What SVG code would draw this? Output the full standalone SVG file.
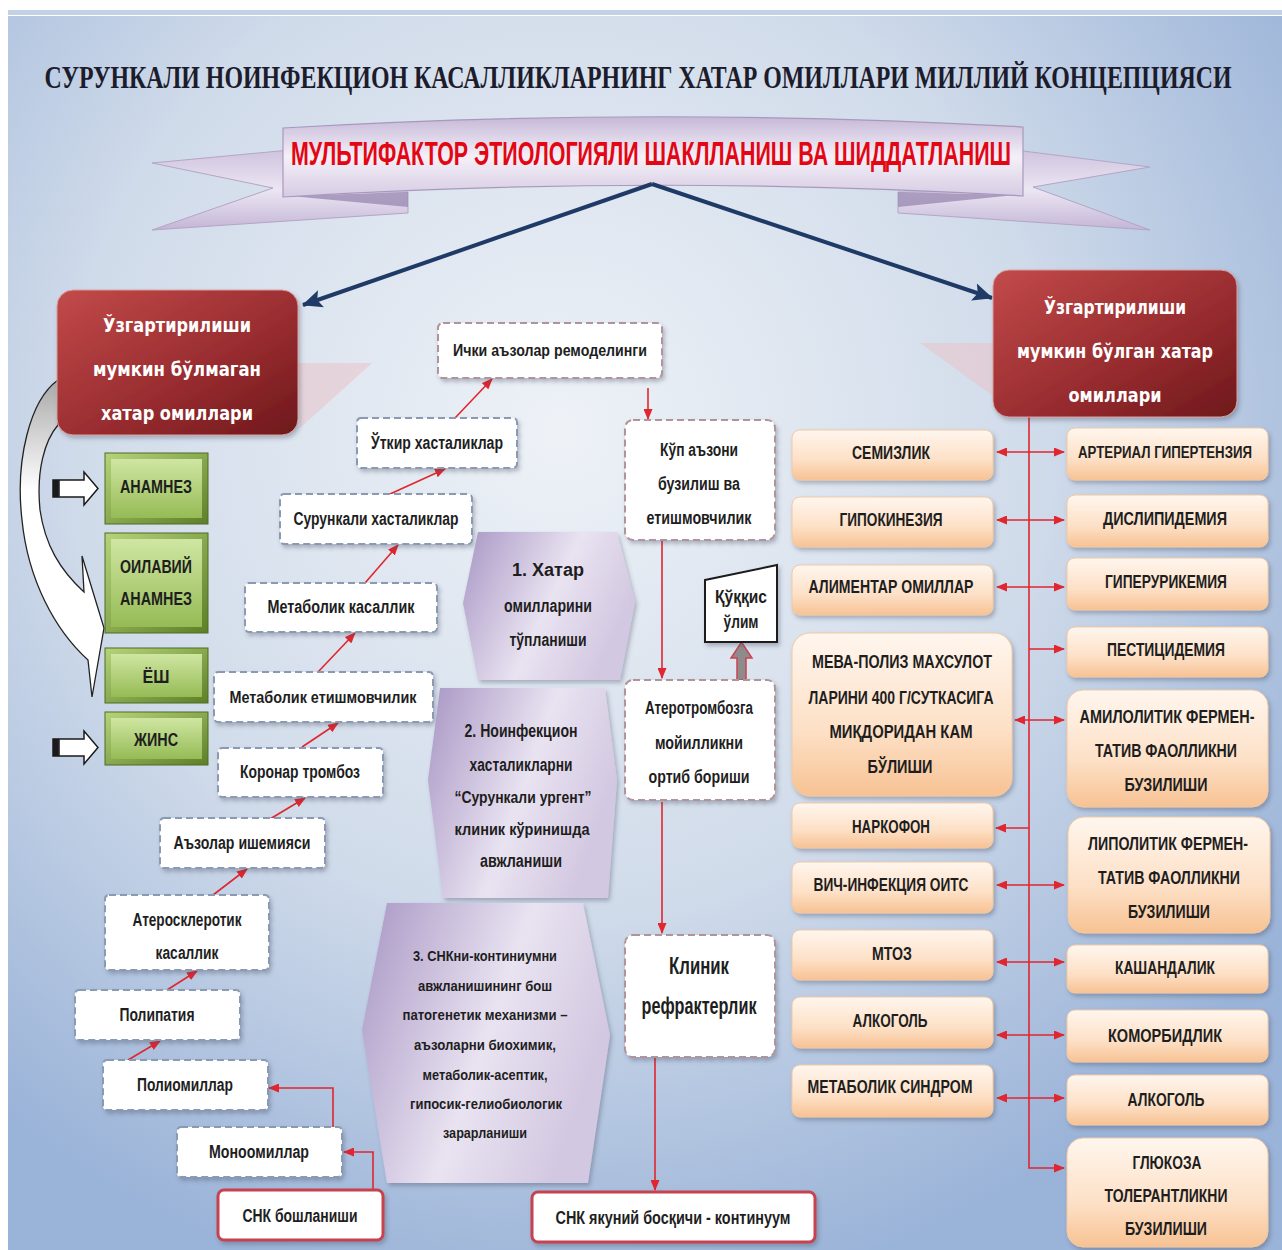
<svg xmlns="http://www.w3.org/2000/svg" width="1282" height="1250" viewBox="0 0 1282 1250">
<defs>
<radialGradient id="bg" gradientUnits="userSpaceOnUse" cx="560" cy="430" r="880">
<stop offset="0" stop-color="#eef2f7"/><stop offset="0.55" stop-color="#d0dbea"/><stop offset="1" stop-color="#9ab3d8"/>
</radialGradient>
<linearGradient id="ribbon" x1="0" y1="0" x2="0" y2="1">
<stop offset="0" stop-color="#c6b8d8"/><stop offset="0.5" stop-color="#f4f0f8"/><stop offset="1" stop-color="#d6cbe3"/>
</linearGradient>
<linearGradient id="wing" x1="0" y1="0" x2="0" y2="1">
<stop offset="0" stop-color="#cfc3de"/><stop offset="0.5" stop-color="#ece6f3"/><stop offset="1" stop-color="#c3b5d6"/>
</linearGradient>
<linearGradient id="redbox" x1="0" y1="0" x2="1" y2="1">
<stop offset="0" stop-color="#c24a4a"/><stop offset="0.6" stop-color="#962b2e"/><stop offset="1" stop-color="#6e181c"/>
</linearGradient>
<linearGradient id="green" x1="0" y1="0" x2="0" y2="1">
<stop offset="0" stop-color="#cfe6a2"/><stop offset="1" stop-color="#96bb55"/>
</linearGradient>
<linearGradient id="greenEdge" x1="0" y1="0" x2="1" y2="1">
<stop offset="0" stop-color="#b5d47a"/><stop offset="1" stop-color="#5e7f28"/>
</linearGradient>
<linearGradient id="hex" x1="0" y1="0" x2="1" y2="0.4">
<stop offset="0" stop-color="#a896c4"/><stop offset="0.6" stop-color="#e9e3f1"/><stop offset="1" stop-color="#d3c8e1"/>
</linearGradient>
<linearGradient id="orange" x1="0" y1="0" x2="0" y2="1">
<stop offset="0" stop-color="#fff6ee"/><stop offset="0.6" stop-color="#fde0c6"/><stop offset="1" stop-color="#f7c293"/>
</linearGradient>
<linearGradient id="curv" x1="0" y1="0" x2="0" y2="1">
<stop offset="0" stop-color="#a9a9a9"/><stop offset="0.35" stop-color="#ffffff"/><stop offset="1" stop-color="#ffffff"/>
</linearGradient>
<filter id="sh" x="-10%" y="-10%" width="130%" height="140%">
<feDropShadow dx="2" dy="3" stdDeviation="2" flood-color="#404860" flood-opacity="0.35"/>
</filter>
<marker id="ra" markerUnits="userSpaceOnUse" markerWidth="11" markerHeight="9" refX="10" refY="4.5" orient="auto-start-reverse">
<path d="M0,0 L11,4.5 L0,9 Z" fill="#e0262f"/>
</marker>
<marker id="ba" markerUnits="userSpaceOnUse" markerWidth="22" markerHeight="20" refX="19" refY="10" orient="auto">
<path d="M0,1 L20,10 L0,19 L4,10 Z" fill="#1f3a66"/>
</marker>
<style>
.t{font-family:"Liberation Sans Narrow","Liberation Sans",Arial,sans-serif;font-weight:bold;fill:#1e1e1e;text-anchor:middle;dominant-baseline:central}
.w{font-family:"DejaVu Sans","Liberation Sans",sans-serif;font-weight:bold;fill:#ffffff;text-anchor:middle;dominant-baseline:central;font-size:19px}
.s18{font-size:18px}.s20{font-size:19px}.s17{font-size:17px}.s16{font-size:16px}.s15{font-size:15px}.s24{font-size:24px}
.db{fill:#ffffff;stroke:#8a9ab3;stroke-width:2;stroke-dasharray:7 4;filter:url(#sh)}
.dp{fill:#ffffff;stroke:#b0949a;stroke-width:2;stroke-dasharray:7 4;filter:url(#sh)}
.rb{fill:#ffffff;stroke:#c6434f;stroke-width:3;filter:url(#sh)}
.ob{fill:url(#orange);stroke:#f1c8a4;stroke-width:1;filter:url(#sh)}
.hx{fill:url(#hex);filter:url(#sh)}
.rl{fill:none;stroke:#e0262f;stroke-width:1.6}
.gb{fill:url(#greenEdge);stroke:#4f6d22;stroke-width:1}
.gi{fill:url(#green)}
</style>
</defs>
<rect x="0" y="0" width="1282" height="1250" fill="#ffffff"/>
<rect x="8" y="16" width="1274" height="1234" fill="url(#bg)"/>
<rect x="8" y="10" width="1274" height="5" fill="#c3d1e6"/>

<text transform="translate(638,88) scale(1,1.25)" x="0" y="0" font-family="Liberation Serif,Times New Roman,serif" font-weight="bold" font-size="25" fill="#1c1c2c" text-anchor="middle" textLength="1187" lengthAdjust="spacingAndGlyphs">СУРУНКАЛИ НОИНФЕКЦИОН КАСАЛЛИКЛАРНИНГ ХАТАР ОМИЛЛАРИ МИЛЛИЙ КОНЦЕПЦИЯСИ</text>

<g id="ribbon">
<polygon points="152,163 290,150 290,192 408,192 408,213 152,230 273,188" fill="url(#wing)" stroke="#b3a5c6" stroke-width="1"/>
<polygon points="290,196 408,192 408,207" fill="#9b8cb3" opacity="0.8"/>
<polygon points="1015,150 1150,167 1033,187 1150,230 898,213 898,192 1015,192" fill="url(#wing)" stroke="#b3a5c6" stroke-width="1"/>
<polygon points="898,192 1015,195 898,207" fill="#9b8cb3" opacity="0.8"/>
<path d="M283,128 Q653,106 1023,127 L1023,196 Q653,174 283,197 Z" fill="url(#ribbon)" stroke="#a899bc" stroke-width="1.2"/>
<text transform="translate(651,165) scale(1,1.25)" x="0" y="0" font-family="Liberation Sans Narrow,Liberation Sans,Arial,sans-serif" font-weight="bold" font-size="27" fill="#e30613" text-anchor="middle" textLength="720" lengthAdjust="spacingAndGlyphs">МУЛЬТИФАКТОР ЭТИОЛОГИЯЛИ ШАКЛЛАНИШ ВА ШИДДАТЛАНИШ</text>
</g>

<g id="shadows" opacity="0.55">
<polygon points="298,363 372,363 300,428" fill="#e9c3c8"/>
<polygon points="920,343 993,343 993,396" fill="#e9c3c8"/>
</g>

<g id="connectors">
<line x1="652" y1="184" x2="303" y2="305" stroke="#1f3a66" stroke-width="4" marker-end="url(#ba)"/>
<line x1="652" y1="184" x2="992" y2="298" stroke="#1f3a66" stroke-width="4" marker-end="url(#ba)"/>
<g class="rl">
<polyline points="373,1190 373,1152 344,1152" marker-end="url(#ra)"/>
<polyline points="333,1127 333,1088 269,1088" marker-end="url(#ra)"/>
<line x1="128" y1="1060" x2="160" y2="1041" marker-end="url(#ra)"/>
<line x1="167" y1="990" x2="197" y2="971" marker-end="url(#ra)"/>
<line x1="213" y1="895" x2="247" y2="869" marker-end="url(#ra)"/>
<line x1="270" y1="819" x2="305" y2="798" marker-end="url(#ra)"/>
<line x1="302" y1="747" x2="338" y2="723" marker-end="url(#ra)"/>
<line x1="318" y1="672" x2="355" y2="633" marker-end="url(#ra)"/>
<line x1="365" y1="583" x2="398" y2="545" marker-end="url(#ra)"/>
<line x1="390" y1="494" x2="445" y2="469" marker-end="url(#ra)"/>
<line x1="455" y1="418" x2="492" y2="379" marker-end="url(#ra)"/>
<line x1="648" y1="388" x2="648" y2="419" marker-end="url(#ra)"/>
<line x1="662" y1="540" x2="662" y2="678" marker-end="url(#ra)"/>
<line x1="662" y1="802" x2="662" y2="933" marker-end="url(#ra)"/>
<line x1="655" y1="1058" x2="655" y2="1190" marker-end="url(#ra)"/>
<polyline points="1029,417 1029,1168 1064,1168" marker-end="url(#ra)"/>
<line x1="997" y1="452" x2="1064" y2="452" marker-start="url(#ra)" marker-end="url(#ra)"/>
<line x1="997" y1="520" x2="1064" y2="520" marker-start="url(#ra)" marker-end="url(#ra)"/>
<line x1="997" y1="587" x2="1064" y2="587" marker-start="url(#ra)" marker-end="url(#ra)"/>
<line x1="1029" y1="649" x2="1064" y2="649" marker-end="url(#ra)"/>
<line x1="1015" y1="720" x2="1064" y2="720" marker-start="url(#ra)" marker-end="url(#ra)"/>
<line x1="1029" y1="828" x2="996" y2="828" marker-end="url(#ra)"/>
<line x1="997" y1="885" x2="1064" y2="885" marker-start="url(#ra)" marker-end="url(#ra)"/>
<line x1="997" y1="962" x2="1064" y2="962" marker-start="url(#ra)" marker-end="url(#ra)"/>
<line x1="997" y1="1035" x2="1064" y2="1035" marker-start="url(#ra)" marker-end="url(#ra)"/>
<line x1="997" y1="1098" x2="1064" y2="1098" marker-start="url(#ra)" marker-end="url(#ra)"/>
</g>
<path d="M58,380 C30,400 15,460 22,520 C28,580 55,630 88,660 L92,697 L104,628 L82,556 L84,592 C60,570 45,545 40,510 C36,470 45,440 58,425 Z" fill="url(#curv)" stroke="#222" stroke-width="1.3"/>
<g id="smallArrows" stroke="#1a1a1a" stroke-width="1.5">
<rect x="53" y="480" width="5" height="17" fill="#1a1a1a"/>
<polygon points="59,480 84,480 84,472 98,488.5 84,505 84,497 59,497" fill="#ffffff"/>
<rect x="53" y="739" width="5" height="17" fill="#1a1a1a"/>
<polygon points="59,739 84,739 84,731 98,747.5 84,764 84,756 59,756" fill="#ffffff"/>
</g>
<polygon points="737,680 737,658 731,658 741.5,642 752,658 746,658 746,680" fill="#8c8c8c" stroke="#d04050" stroke-width="1.5"/>
</g>

<g id="n-left-red"><rect x="57" y="290" width="241" height="145" rx="16" fill="url(#redbox)" stroke="#d8a0a0" stroke-width="1" filter="url(#sh)"/>
<text class="w" x="177" y="325" textLength="148" lengthAdjust="spacingAndGlyphs">Ўзгартирилиши</text>
<text class="w" x="177" y="369" textLength="168" lengthAdjust="spacingAndGlyphs">мумкин бўлмаган</text>
<text class="w" x="177" y="413" textLength="152" lengthAdjust="spacingAndGlyphs">хатар омиллари</text></g>
<g id="n-right-red"><rect x="993" y="270" width="244" height="147" rx="16" fill="url(#redbox)" stroke="#d8a0a0" stroke-width="1" filter="url(#sh)"/>
<text class="w" x="1115" y="307" textLength="142" lengthAdjust="spacingAndGlyphs">Ўзгартирилиши</text>
<text class="w" x="1115" y="351" textLength="196" lengthAdjust="spacingAndGlyphs">мумкин бўлган хатар</text>
<text class="w" x="1115" y="395" textLength="93" lengthAdjust="spacingAndGlyphs">омиллари</text></g>

<g id="n-anamnez"><rect class="gb" x="105" y="453" width="103" height="71"/><rect class="gi" x="111" y="459" width="91" height="59"/>
<text class="t s20" x="156" y="486" textLength="72" lengthAdjust="spacingAndGlyphs">АНАМНЕЗ</text></g>
<g id="n-oilaviy"><rect class="gb" x="105" y="533" width="103" height="100"/><rect class="gi" x="111" y="539" width="91" height="88"/>
<text class="t s20" x="156" y="566" textLength="72" lengthAdjust="spacingAndGlyphs">ОИЛАВИЙ</text>
<text class="t s20" x="156" y="598" textLength="72" lengthAdjust="spacingAndGlyphs">АНАМНЕЗ</text></g>
<g id="n-yosh"><rect class="gb" x="105" y="648" width="103" height="55"/><rect class="gi" x="111" y="654" width="91" height="43"/>
<text class="t s20" x="156" y="676" textLength="27" lengthAdjust="spacingAndGlyphs">ЁШ</text></g>
<g id="n-jins"><rect class="gb" x="105" y="712" width="103" height="53"/><rect class="gi" x="111" y="718" width="91" height="41"/>
<text class="t s20" x="156" y="739" textLength="44" lengthAdjust="spacingAndGlyphs">ЖИНС</text></g>

<g id="n-ichki"><rect class="dp" x="438" y="323" width="224" height="55" rx="5"/><text class="t s17" x="550" y="350" textLength="194" lengthAdjust="spacingAndGlyphs">Ички аъзолар ремоделинги</text></g>
<g id="n-utkir"><rect class="db" x="357" y="418" width="160" height="50" rx="4"/><text class="t s18" x="437" y="443" textLength="132" lengthAdjust="spacingAndGlyphs">Ўткир хасталиклар</text></g>
<g id="n-surunkali"><rect class="db" x="280" y="494" width="192" height="50" rx="4"/><text class="t s18" x="376" y="519" textLength="165" lengthAdjust="spacingAndGlyphs">Сурункали хасталиклар</text></g>
<g id="n-metkas"><rect class="db" x="245" y="583" width="192" height="49" rx="4"/><text class="t s18" x="341" y="607" textLength="147" lengthAdjust="spacingAndGlyphs">Метаболик касаллик</text></g>
<g id="n-metet"><rect class="db" x="214" y="672" width="219" height="50" rx="4"/><text class="t s17" x="323" y="697" textLength="187" lengthAdjust="spacingAndGlyphs">Метаболик етишмовчилик</text></g>
<g id="n-koronar"><rect class="db" x="218" y="748" width="165" height="49" rx="4"/><text class="t s18" x="300" y="772" textLength="120" lengthAdjust="spacingAndGlyphs">Коронар тромбоз</text></g>
<g id="n-ishemiya"><rect class="db" x="160" y="818" width="165" height="50" rx="4"/><text class="t s18" x="242" y="843" textLength="137" lengthAdjust="spacingAndGlyphs">Аъзолар ишемияси</text></g>
<g id="n-ateroskl"><rect class="db" x="105" y="895" width="164" height="75" rx="4"/><text class="t s18" x="187" y="920" textLength="109" lengthAdjust="spacingAndGlyphs">Атеросклеротик</text><text class="t s18" x="187" y="953" textLength="63" lengthAdjust="spacingAndGlyphs">касаллик</text></g>
<g id="n-polipatiya"><rect class="db" x="75" y="990" width="165" height="50" rx="4"/><text class="t s18" x="157" y="1015" textLength="75" lengthAdjust="spacingAndGlyphs">Полипатия</text></g>
<g id="n-poliomil"><rect class="db" x="103" y="1060" width="165" height="50" rx="4"/><text class="t s18" x="185" y="1085" textLength="96" lengthAdjust="spacingAndGlyphs">Полиомиллар</text></g>
<g id="n-monomil"><rect class="db" x="177" y="1127" width="165" height="50" rx="4"/><text class="t s18" x="259" y="1152" textLength="100" lengthAdjust="spacingAndGlyphs">Монoомиллар</text></g>
<g id="n-snkbosh"><rect class="rb" x="218" y="1190" width="165" height="50" rx="6"/><text class="t s18" x="300" y="1216" textLength="115" lengthAdjust="spacingAndGlyphs">СНК бошланиши</text></g>

<g id="n-kup"><rect class="dp" x="625" y="420" width="150" height="120" rx="8"/>
<text class="t s18" x="699" y="450" textLength="78" lengthAdjust="spacingAndGlyphs">Кўп аъзони</text>
<text class="t s18" x="699" y="484" textLength="82" lengthAdjust="spacingAndGlyphs">бузилиш ва</text>
<text class="t s18" x="699" y="518" textLength="105" lengthAdjust="spacingAndGlyphs">етишмовчилик</text></g>
<g id="n-atero"><rect class="dp" x="625" y="680" width="150" height="120" rx="8"/>
<text class="t s18" x="699" y="708" textLength="108" lengthAdjust="spacingAndGlyphs">Атеротромбозга</text>
<text class="t s18" x="699" y="743" textLength="88" lengthAdjust="spacingAndGlyphs">мойилликни</text>
<text class="t s18" x="699" y="777" textLength="101" lengthAdjust="spacingAndGlyphs">ортиб бориши</text></g>
<g id="n-kukkis"><polygon points="705,580 777,565 777,642 705,642" fill="#ffffff" stroke="#1a1a1a" stroke-width="2" filter="url(#sh)"/>
<text class="t s18" x="741" y="597" textLength="52" lengthAdjust="spacingAndGlyphs">Қўққис</text>
<text class="t s18" x="741" y="622" textLength="35" lengthAdjust="spacingAndGlyphs">ўлим</text></g>
<g id="n-klinik"><rect class="dp" x="625" y="935" width="150" height="122" rx="8"/>
<text class="t s24" x="699" y="965" textLength="60" lengthAdjust="spacingAndGlyphs">Клиник</text>
<text class="t s24" x="699" y="1005" textLength="115" lengthAdjust="spacingAndGlyphs">рефрактерлик</text></g>
<g id="n-snkyakun"><rect class="rb" x="532" y="1192" width="283" height="50" rx="6"/><text class="t s18" x="673" y="1218" textLength="235" lengthAdjust="spacingAndGlyphs">СНК якуний босқичи - континуум</text></g>

<g id="n-hex1"><polygon class="hx" points="478,532 617,532 635,602 620,680 478,680 463,603"/>
<text class="t s18" x="548" y="570" textLength="72" lengthAdjust="spacingAndGlyphs">1. Хатар</text>
<text class="t s18" x="548" y="606" textLength="88" lengthAdjust="spacingAndGlyphs">омилларини</text>
<text class="t s18" x="548" y="640" textLength="77" lengthAdjust="spacingAndGlyphs">тўпланиши</text></g>
<g id="n-hex2"><polygon class="hx" points="440,688 605,688 617,780 608,898 443,898 428,780"/>
<text class="t s18" x="521" y="731" textLength="113" lengthAdjust="spacingAndGlyphs">2. Ноинфекцион</text>
<text class="t s18" x="521" y="765" textLength="103" lengthAdjust="spacingAndGlyphs">хасталикларни</text>
<text class="t s17" x="523" y="797" textLength="137" lengthAdjust="spacingAndGlyphs">“Сурункали ургент”</text>
<text class="t s17" x="522" y="829" textLength="135" lengthAdjust="spacingAndGlyphs">клиник кўринишда</text>
<text class="t s18" x="521" y="861" textLength="82" lengthAdjust="spacingAndGlyphs">авжланиши</text></g>
<g id="n-hex3"><polygon class="hx" points="387,903 583,903 610,1035 588,1183 387,1183 362,1030"/>
<text class="t s15" x="485" y="955" textLength="144" lengthAdjust="spacingAndGlyphs">3. СНКни-континиумни</text>
<text class="t s15" x="485" y="985" textLength="134" lengthAdjust="spacingAndGlyphs">авжланишининг бош</text>
<text class="t s15" x="485" y="1014" textLength="165" lengthAdjust="spacingAndGlyphs">патогенетик механизми –</text>
<text class="t s15" x="485" y="1044" textLength="142" lengthAdjust="spacingAndGlyphs">аъзоларни биохимик,</text>
<text class="t s15" x="485" y="1074" textLength="125" lengthAdjust="spacingAndGlyphs">метаболик-асептик,</text>
<text class="t s15" x="486" y="1103" textLength="152" lengthAdjust="spacingAndGlyphs">гипосик-гелиобиологик</text>
<text class="t s15" x="485" y="1132" textLength="84" lengthAdjust="spacingAndGlyphs">зарарланиши</text></g>

<g id="n-semiz"><rect class="ob" x="792" y="430" width="201" height="50" rx="8"/><text class="t s20" x="891" y="452" textLength="78" lengthAdjust="spacingAndGlyphs">СЕМИЗЛИК</text></g>
<g id="n-gipokin"><rect class="ob" x="792" y="497" width="201" height="50" rx="8"/><text class="t s20" x="891" y="519" textLength="103" lengthAdjust="spacingAndGlyphs">ГИПОКИНЕЗИЯ</text></g>
<g id="n-aliment"><rect class="ob" x="792" y="565" width="201" height="50" rx="8"/><text class="t s18" x="891" y="587" textLength="165" lengthAdjust="spacingAndGlyphs">АЛИМЕНТАР ОМИЛЛАР</text></g>
<g id="n-meva"><rect class="ob" x="792" y="633" width="220" height="163" rx="18"/>
<text class="t s18" x="902" y="662" textLength="180" lengthAdjust="spacingAndGlyphs">МЕВА-ПОЛИЗ МАХСУЛОТ</text>
<text class="t s18" x="901" y="698" textLength="185" lengthAdjust="spacingAndGlyphs">ЛАРИНИ 400 Г/СУТКАСИГА</text>
<text class="t s18" x="901" y="732" textLength="143" lengthAdjust="spacingAndGlyphs">МИҚДОРИДАН  КАМ</text>
<text class="t s20" x="900" y="766" textLength="65" lengthAdjust="spacingAndGlyphs">БЎЛИШИ</text></g>
<g id="n-narkofon"><rect class="ob" x="792" y="803" width="201" height="45" rx="8"/><text class="t s20" x="891" y="826" textLength="78" lengthAdjust="spacingAndGlyphs">НАРКОФОН</text></g>
<g id="n-vich"><rect class="ob" x="792" y="862" width="201" height="51" rx="8"/><text class="t s18" x="891" y="885" textLength="155" lengthAdjust="spacingAndGlyphs">ВИЧ-ИНФЕКЦИЯ ОИТС</text></g>
<g id="n-mtoz"><rect class="ob" x="792" y="930" width="201" height="50" rx="8"/><text class="t s20" x="892" y="953" textLength="40" lengthAdjust="spacingAndGlyphs">МТОЗ</text></g>
<g id="n-alkogol1"><rect class="ob" x="792" y="997" width="201" height="51" rx="8"/><text class="t s20" x="890" y="1020" textLength="75" lengthAdjust="spacingAndGlyphs">АЛКОГОЛЬ</text></g>
<g id="n-metsind"><rect class="ob" x="792" y="1065" width="201" height="52" rx="8"/><text class="t s18" x="890" y="1087" textLength="165" lengthAdjust="spacingAndGlyphs">МЕТАБОЛИК СИНДРОМ</text></g>

<g id="n-arterial"><rect class="ob" x="1067" y="428" width="201" height="52" rx="8"/><text class="t s16" x="1165" y="452" textLength="174" lengthAdjust="spacingAndGlyphs">АРТЕРИАЛ ГИПЕРТЕНЗИЯ</text></g>
<g id="n-dislip"><rect class="ob" x="1067" y="495" width="201" height="52" rx="8"/><text class="t s20" x="1165" y="518" textLength="124" lengthAdjust="spacingAndGlyphs">ДИСЛИПИДЕМИЯ</text></g>
<g id="n-giperur"><rect class="ob" x="1067" y="558" width="201" height="52" rx="8"/><text class="t s20" x="1166" y="581" textLength="122" lengthAdjust="spacingAndGlyphs">ГИПЕРУРИКЕМИЯ</text></g>
<g id="n-pestic"><rect class="ob" x="1067" y="627" width="201" height="50" rx="8"/><text class="t s20" x="1166" y="649" textLength="118" lengthAdjust="spacingAndGlyphs">ПЕСТИЦИДЕМИЯ</text></g>
<g id="n-amilo"><rect class="ob" x="1067" y="690" width="201" height="117" rx="16"/>
<text class="t s18" x="1167" y="717" textLength="175" lengthAdjust="spacingAndGlyphs">АМИЛОЛИТИК ФЕРМЕН-</text>
<text class="t s18" x="1166" y="751" textLength="142" lengthAdjust="spacingAndGlyphs">ТАТИВ ФАОЛЛИКНИ</text>
<text class="t s20" x="1166" y="784" textLength="83" lengthAdjust="spacingAndGlyphs">БУЗИЛИШИ</text></g>
<g id="n-lipo"><rect class="ob" x="1068" y="817" width="202" height="116" rx="16"/>
<text class="t s18" x="1168" y="844" textLength="160" lengthAdjust="spacingAndGlyphs">ЛИПОЛИТИК ФЕРМЕН-</text>
<text class="t s18" x="1169" y="878" textLength="142" lengthAdjust="spacingAndGlyphs">ТАТИВ ФАОЛЛИКНИ</text>
<text class="t s20" x="1169" y="911" textLength="82" lengthAdjust="spacingAndGlyphs">БУЗИЛИШИ</text></g>
<g id="n-kashand"><rect class="ob" x="1067" y="945" width="201" height="48" rx="8"/><text class="t s20" x="1165" y="967" textLength="100" lengthAdjust="spacingAndGlyphs">КАШАНДАЛИК</text></g>
<g id="n-komorb"><rect class="ob" x="1067" y="1010" width="201" height="52" rx="8"/><text class="t s20" x="1165" y="1035" textLength="114" lengthAdjust="spacingAndGlyphs">КОМОРБИДЛИК</text></g>
<g id="n-alkogol2"><rect class="ob" x="1067" y="1075" width="201" height="50" rx="8"/><text class="t s20" x="1166" y="1099" textLength="77" lengthAdjust="spacingAndGlyphs">АЛКОГОЛЬ</text></g>
<g id="n-glyukoza"><rect class="ob" x="1067" y="1138" width="201" height="109" rx="16"/>
<text class="t s20" x="1167" y="1162" textLength="69" lengthAdjust="spacingAndGlyphs">ГЛЮКОЗА</text>
<text class="t s20" x="1166" y="1195" textLength="123" lengthAdjust="spacingAndGlyphs">ТОЛЕРАНТЛИКНИ</text>
<text class="t s20" x="1166" y="1228" textLength="82" lengthAdjust="spacingAndGlyphs">БУЗИЛИШИ</text></g>
</svg>
